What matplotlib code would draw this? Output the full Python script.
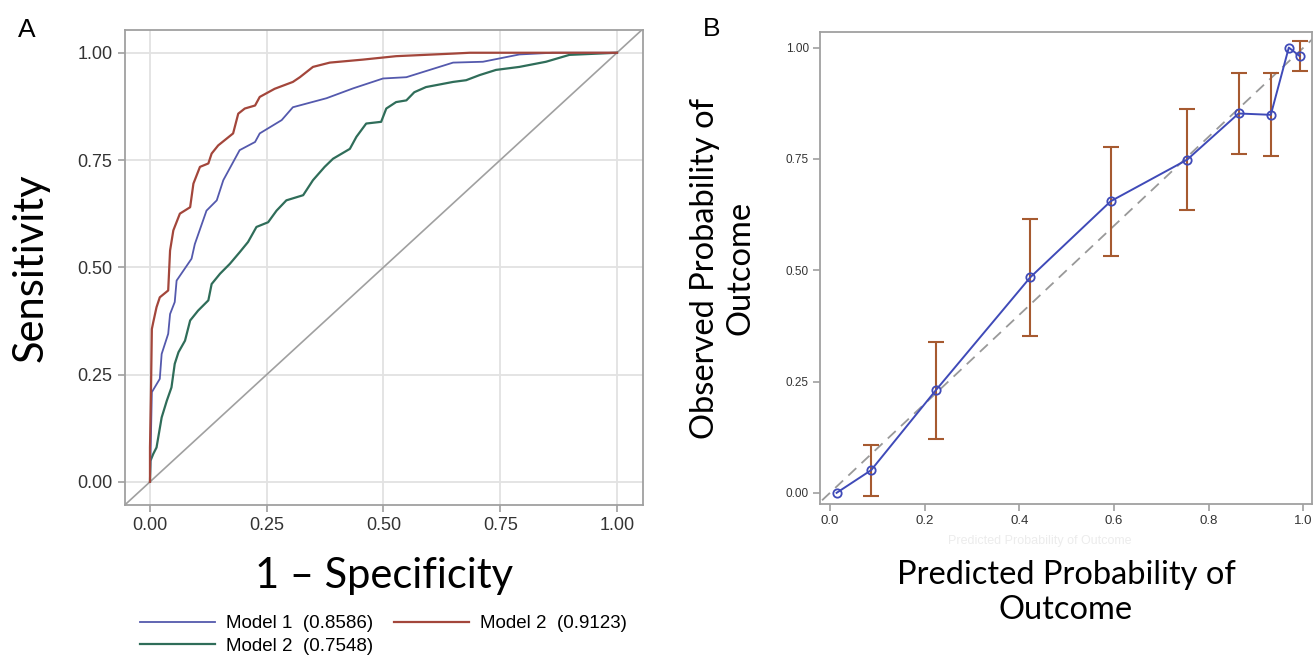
import matplotlib
matplotlib.use("Agg")
import matplotlib.pyplot as plt
import numpy as np

# ---------------- Data ----------------
# ROC curves (1 - specificity, sensitivity)
m1_fpr = [0.0, 0.004, 0.021, 0.025, 0.039, 0.043, 0.053, 0.057, 0.089, 0.096, 0.121, 0.143,
          0.157, 0.192, 0.225, 0.235, 0.282, 0.306, 0.378, 0.435, 0.499, 0.549, 0.649, 0.713,
          0.791, 0.862, 1.0]
m1_tpr = [0.0, 0.209, 0.24, 0.298, 0.345, 0.391, 0.419, 0.469, 0.52, 0.554, 0.632, 0.656,
          0.703, 0.773, 0.792, 0.812, 0.843, 0.873, 0.894, 0.917, 0.94, 0.943, 0.977, 0.979,
          0.996, 1.0, 1.0]

m2_fpr = [0.0, 0.0, 0.002, 0.004, 0.007, 0.014, 0.021, 0.039, 0.043, 0.05, 0.064, 0.086, 0.093,
          0.107, 0.125, 0.132, 0.146, 0.178, 0.189, 0.203, 0.225, 0.235, 0.267, 0.306, 0.321,
          0.349, 0.385, 0.456, 0.527, 0.649, 0.685, 1.0]
m2_tpr = [0.0, 0.08, 0.2, 0.356, 0.372, 0.407, 0.43, 0.446, 0.539, 0.586, 0.625, 0.64, 0.695,
          0.734, 0.742, 0.765, 0.784, 0.812, 0.858, 0.87, 0.877, 0.897, 0.916, 0.932, 0.943,
          0.967, 0.977, 0.984, 0.992, 0.998, 1.0, 1.0]

m3_fpr = [0.0, 0.001, 0.007, 0.014, 0.025, 0.036, 0.046, 0.053, 0.061, 0.075, 0.086, 0.103,
          0.125, 0.132, 0.15, 0.171, 0.192, 0.21, 0.228, 0.253, 0.271, 0.292, 0.328, 0.349,
          0.374, 0.392, 0.428, 0.442, 0.463, 0.495, 0.506, 0.527, 0.549, 0.566, 0.591, 0.649,
          0.677, 0.706, 0.741, 0.791, 0.848, 0.898, 1.0]
m3_tpr = [0.0, 0.049, 0.065, 0.08, 0.15, 0.189, 0.22, 0.275, 0.302, 0.329, 0.376, 0.399,
          0.423, 0.461, 0.485, 0.508, 0.535, 0.559, 0.594, 0.605, 0.632, 0.656, 0.668, 0.703,
          0.734, 0.753, 0.776, 0.804, 0.835, 0.839, 0.87, 0.885, 0.889, 0.908, 0.92, 0.932,
          0.936, 0.948, 0.96, 0.967, 0.979, 0.995, 1.0]

roc_labels = ["Model 1  (0.8586)", "Model 2  (0.9123)", "Model 2  (0.7548)"]
roc_ticks = [0.0, 0.25, 0.5, 0.75, 1.0]
roc_ticklabels = ["0.00", "0.25", "0.50", "0.75", "1.00"]

# Calibration plot
cal_pred = [0.014, 0.087, 0.224, 0.423, 0.593, 0.754, 0.863, 0.931, 0.969, 0.992]
cal_obs = [0.0, 0.051, 0.231, 0.484, 0.655, 0.748, 0.852, 0.849, 1.0, 0.981]
cal_lo = [np.nan, -0.006, 0.121, 0.352, 0.533, 0.636, 0.761, 0.756, np.nan, 0.948]
cal_hi = [np.nan, 0.108, 0.338, 0.614, 0.777, 0.862, 0.943, 0.943, np.nan, 1.015]
cal_xticks = [0.0, 0.2, 0.4, 0.6, 0.8, 1.0]
cal_xticklabels = ["0.0", "0.2", "0.4", "0.6", "0.8", "1.0"]
cal_yticks = [0.0, 0.25, 0.5, 0.75, 1.0]
cal_yticklabels = ["0.00", "0.25", "0.50", "0.75", "1.00"]

# ---------------- Style ----------------
BLUE = "#5459ad"
RED = "#a3463b"
GREEN = "#2f6d59"
FRAME = "#a0a0a0"
GRID = "#e2e2e2"
TICKTXT = "#333333"
BIGFONT = ["Lato", "DejaVu Sans"]
SMALLFONT = ["Liberation Sans", "DejaVu Sans"]

W, H = 1313, 656
fig = plt.figure(figsize=(W / 100, H / 100), dpi=100)

def frac(x0, y0, x1, y1):
    return [x0 / W, 1 - y1 / H, (x1 - x0) / W, (y1 - y0) / H]

# ---------------- Panel A ----------------
axA = fig.add_axes(frac(125, 30, 643, 505))
axA.set_xlim(-0.0535, 1.0557)
axA.set_ylim(-0.054, 1.053)
axA.set_axisbelow(True)
axA.grid(True, color=GRID, lw=1.3)
axA.plot([-0.1, 1.1], [-0.1, 1.1], color="#a0a0a0", lw=1.2, zorder=1)
l1, = axA.plot(m1_fpr, m1_tpr, color=BLUE, lw=1.3, zorder=3)
l3, = axA.plot(m3_fpr, m3_tpr, color=GREEN, lw=1.6, zorder=2)
l2, = axA.plot(m2_fpr, m2_tpr, color=RED, lw=1.6, zorder=4)
axA.set_xticks(roc_ticks)
axA.set_xticklabels(roc_ticklabels)
axA.set_yticks(roc_ticks)
axA.set_yticklabels(roc_ticklabels)
for sp in axA.spines.values():
    sp.set_color(FRAME)
    sp.set_linewidth(1.3)
axA.tick_params(colors=FRAME, labelcolor=TICKTXT, length=5, width=1.2, labelsize=13, pad=4)
for t in axA.get_xticklabels() + axA.get_yticklabels():
    t.set_family(SMALLFONT)
axA.set_xlabel("1 – Specificity", family=BIGFONT, fontsize=30, labelpad=16)
axA.set_ylabel("Sensitivity", family=BIGFONT, fontsize=30, labelpad=20)

fig.legend([l1, l3, l2], [roc_labels[0], roc_labels[2], roc_labels[1]],
           ncol=2, loc="upper left", bbox_to_anchor=(140 / W, 1 - 615 / H),
           frameon=False, handlelength=4.0, handletextpad=0.6, columnspacing=1.1,
           labelspacing=0.3, borderaxespad=0, borderpad=0,
           prop={"family": SMALLFONT, "size": 13.5})

fig.text(18 / W, 1 - 30 / H, "A", family=SMALLFONT, fontsize=19, va="center", ha="left")

# ---------------- Panel B ----------------
axB = fig.add_axes(frac(820, 32, 1312, 504))
axB.set_xlim(-0.021, 1.018)
axB.set_ylim(-0.025, 1.035)
axB.plot([-0.1, 1.1], [-0.1, 1.1], color="#999999", lw=1.3, ls=(0, (6, 4)), zorder=1)
lo = np.array(cal_lo)
hi = np.array(cal_hi)
obs = np.array(cal_obs)
pred = np.array(cal_pred)
mask = ~np.isnan(lo)
axB.errorbar(pred[mask], obs[mask], yerr=[obs[mask] - lo[mask], hi[mask] - obs[mask]],
             fmt="none", ecolor="#a65a30", elinewidth=1.5, capsize=5.5, capthick=1.5, zorder=2)
axB.plot(pred, obs, color="#3f4ab8", lw=1.4, marker="o", ms=6, mfc="none", mec="#3f4ab8",
         mew=1.3, zorder=3)
axB.set_xticks(cal_xticks)
axB.set_xticklabels(cal_xticklabels)
axB.set_yticks(cal_yticks)
axB.set_yticklabels(cal_yticklabels)
for sp in axB.spines.values():
    sp.set_color(FRAME)
    sp.set_linewidth(1.3)
axB.tick_params(axis="y", colors=FRAME, labelcolor=TICKTXT, length=5, width=1.2, labelsize=8.5, pad=3)
axB.tick_params(axis="x", colors=FRAME, labelcolor=TICKTXT, length=5, width=1.2, labelsize=9.5, pad=3)
for t in axB.get_xticklabels() + axB.get_yticklabels():
    t.set_family(SMALLFONT)
axB.set_xlabel("Predicted Probability of\nOutcome", family=BIGFONT, fontsize=23.5,
               labelpad=24, linespacing=1.2)
axB.set_ylabel("Observed Probability of\nOutcome", family=BIGFONT, fontsize=23.5,
               labelpad=22, linespacing=1.2)
fig.text(1040 / W, 1 - 541 / H, "Predicted Probability of Outcome", family=SMALLFONT,
         fontsize=9, color="#ececec", ha="center", va="center")

fig.text(703 / W, 1 - 29 / H, "B", family=SMALLFONT, fontsize=19, va="center", ha="left")

fig.savefig("out.png", dpi=100)
